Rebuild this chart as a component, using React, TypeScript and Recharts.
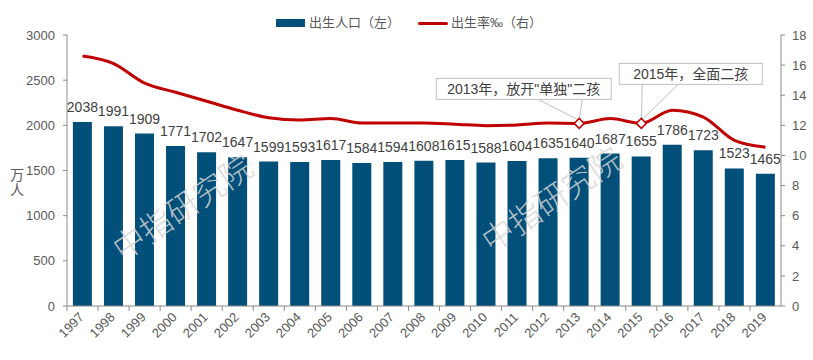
import React from 'react';
import { ComposedChart, Bar, Line, XAxis, YAxis, LabelList } from 'recharts';

const years = ['1997','1998','1999','2000','2001','2002','2003','2004','2005','2006','2007','2008','2009','2010','2011','2012','2013','2014','2015','2016','2017','2018','2019'];
const births = [2038,1991,1909,1771,1702,1647,1599,1593,1617,1584,1594,1608,1615,1588,1604,1635,1640,1687,1655,1786,1723,1523,1465];
const rates = [16.6,16.1,14.8,14.2,13.6,13.0,12.5,12.35,12.45,12.15,12.15,12.15,12.07,11.98,12.02,12.15,12.13,12.45,12.13,13.0,12.55,11.0,10.55];
const leftTicks = [0,500,1000,1500,2000,2500,3000];
const rightTicks = [0,2,4,6,8,10,12,14,16,18];
const annotationYears = ['2013','2015'];
const annotationTexts = ['2013年，放开"单独"二孩','2015年，全面二孩'];
const legendLabels = ['出生人口（左）','出生率‰（右）'];
const axisLabel = ['万','人'];
const watermarkText = '中指研究院';

const data = years.map((y, i) => ({ year: y, births: births[i], rate: rates[i] }));

const BAR = '#02507A';
const LINE = '#C00000';
const AXIS = '#898989';
const TXT = '#595959';
const FONT = '"Liberation Sans", Arial, "Noto Sans CJK SC", sans-serif';

// callout box layout relative to point
const calloutLayout = [
  { bx: -143, by: -45, bw: 175, bh: 21, l1: -41, l2: 3 },
  { bx: -22, by: -60, bw: 143, bh: 21, l1: 1, l2: 37 },
];

const XTick = (props: any) => {
  const { x, y, payload } = props;
  const half = payload && payload.offset ? payload.offset : 15.5;
  const bx = x - half;
  return (
    <g>
      <line x1={bx} y1={y} x2={bx} y2={y + 5} stroke={AXIS} strokeWidth={1} />
      <text
        x={x + 2}
        y={y + 12}
        transform={`rotate(-45, ${x + 2}, ${y + 12})`}
        textAnchor="end"
        fontSize={13}
        fill={TXT}
        fontFamily={FONT}
      >
        {payload.value}
      </text>
    </g>
  );
};

const renderDot = (props: any) => {
  const { cx, cy, index, payload } = props;
  const k = annotationYears.indexOf(payload.year);
  if (k < 0) return <g key={`d-${index}`} />;
  const L = calloutLayout[k];
  const s = 5;
  return (
    <g key={`d-${index}`}>
      <line x1={cx + L.l1} y1={cy + L.by + L.bh} x2={cx} y2={cy - 3} stroke="#bfbfbf" strokeWidth={1} />
      <line x1={cx + L.l2} y1={cy + L.by + L.bh} x2={cx} y2={cy - 3} stroke="#bfbfbf" strokeWidth={1} />
      <rect x={cx + L.bx} y={cy + L.by} width={L.bw} height={L.bh} fill="#fff" stroke="#bfbfbf" strokeWidth={1} />
      <text
        x={cx + L.bx + L.bw / 2}
        y={cy + L.by + L.bh / 2 + 5}
        textAnchor="middle"
        fontSize={14}
        fill="#404040"
        fontFamily={FONT}
      >
        {annotationTexts[k]}
      </text>
      <path d={`M${cx},${cy - s} L${cx + s},${cy} L${cx},${cy + s} L${cx - s},${cy} Z`} fill="#fff" stroke={LINE} strokeWidth={1.5} />
    </g>
  );
};

export default function App() {
  return (
    <div style={{ position: 'absolute', left: 0, top: 0, width: 813, height: 360, background: '#fff', fontFamily: FONT }}>
      <ComposedChart width={813} height={360} data={data} margin={{ top: 35, right: 0, bottom: 0, left: 7 }} barCategoryGap="19%">
        <XAxis
          dataKey="year"
          interval={0}
          height={54}
          axisLine={{ stroke: AXIS }}
          tickLine={false}
          tickSize={0}
          tickMargin={0}
          tick={<XTick />}
        />
        <YAxis
          yAxisId="left"
          domain={[0, 3000]}
          ticks={leftTicks}
          width={60}
          axisLine={{ stroke: AXIS }}
          tickLine={{ stroke: AXIS }}
          tickSize={4}
          tickMargin={8}
          tick={{ fill: TXT, fontSize: 13, fontFamily: FONT }}
          interval={0}
        />
        <YAxis
          yAxisId="right"
          orientation="right"
          domain={[0, 18]}
          ticks={rightTicks}
          width={32}
          axisLine={{ stroke: AXIS }}
          tickLine={{ stroke: AXIS }}
          tickSize={4}
          tickMargin={7}
          tick={{ fill: TXT, fontSize: 13, fontFamily: FONT }}
          interval={0}
        />
        <Bar yAxisId="left" dataKey="births" fill={BAR} isAnimationActive={false}>
          <LabelList dataKey="births" position="top" offset={10} fill="#404040" fontSize={14} fontFamily={FONT} />
        </Bar>
        <Line
          yAxisId="right"
          dataKey="rate"
          type="monotone"
          stroke={LINE}
          strokeWidth={3}
          dot={renderDot}
          activeDot={false}
          isAnimationActive={false}
        />
      </ComposedChart>

      {/* legend */}
      <div style={{ position: 'absolute', left: 276, top: 19, width: 29, height: 8, background: BAR }} />
      <div style={{ position: 'absolute', left: 309, top: 14, fontSize: 13, color: TXT, lineHeight: '18px', whiteSpace: 'nowrap' }}>{legendLabels[0]}</div>
      <div style={{ position: 'absolute', left: 418, top: 21.5, width: 30, height: 3, background: LINE, borderRadius: 1.5 }} />
      <div style={{ position: 'absolute', left: 451, top: 14, fontSize: 13, color: TXT, lineHeight: '18px', whiteSpace: 'nowrap' }}>{legendLabels[1]}</div>

      {/* y axis title */}
      <div style={{ position: 'absolute', left: 9, top: 168, fontSize: 14, color: TXT, lineHeight: '15px', width: 16, textAlign: 'center' }}>
        {axisLabel.map((c) => (<div key={c}>{c}</div>))}
      </div>

      {/* watermarks */}
      <svg width={813} height={360} style={{ position: 'absolute', left: 0, top: 0, pointerEvents: 'none' }}>
        {[[183, 208], [552, 200]].map(([x, y], i) => (
          <text
            key={i}
            x={x}
            y={y + 11}
            textAnchor="middle"
            fontSize={32}
            fill="#d4d4d4"
            fillOpacity={0.85}
            fontFamily='"Noto Sans CJK SC", sans-serif'
            fontWeight={300}
            transform={`rotate(-34, ${x}, ${y})`}
          >
            {watermarkText}
          </text>
        ))}
      </svg>
    </div>
  );
}
